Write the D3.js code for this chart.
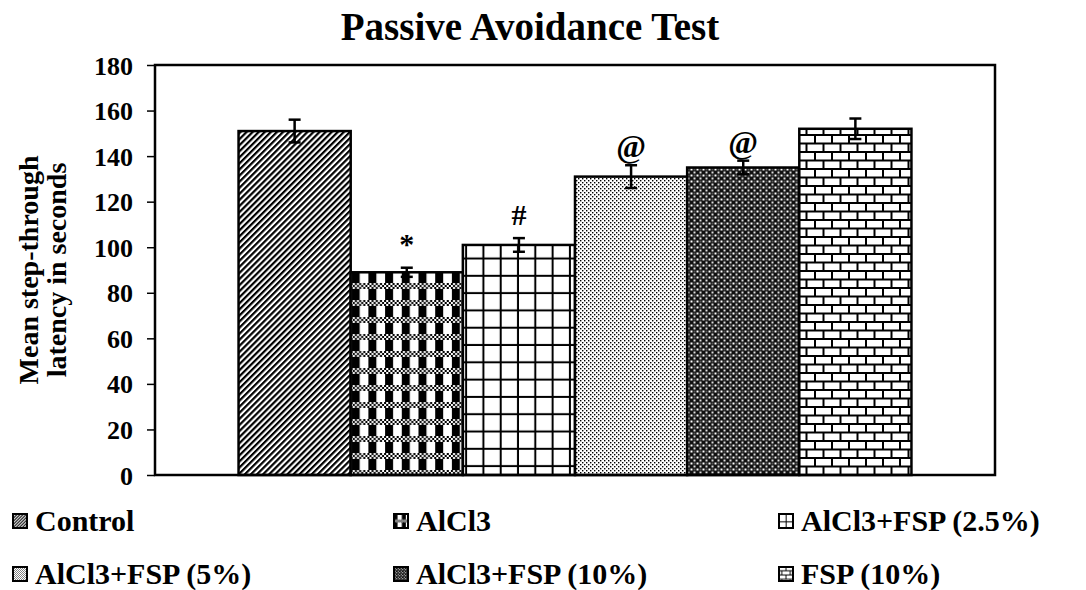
<!DOCTYPE html>
<html>
<head>
<meta charset="utf-8">
<script src="https://cdn.jsdelivr.net/npm/d3@7/dist/d3.min.js"></script>
<style>
  body { margin: 0; background: #fff; }
  text { font-family: "Liberation Serif", "Times New Roman", serif; font-weight: bold; fill: #000; }
</style>
</head>
<body>
<svg id="chart" width="1086" height="590"></svg>
<script>
const groups = ['Control', 'AlCl3', 'AlCl3+FSP (2.5%)', 'AlCl3+FSP (5%)', 'AlCl3+FSP (10%)', 'FSP (10%)'];
const means = [151, 89, 101, 131, 135, 152];
const errors = [5, 2, 3, 5, 3, 4.5];
const marks = ['', '*', '#', '@', '@', ''];
const yTicks = [0, 20, 40, 60, 80, 100, 120, 140, 160, 180];
const patternIds = ['pStripe', 'pPlaid', 'pGrid', 'pDots', 'pDiamond', 'pBrick'];

const width = 1086;
const height = 590;
const margin = { left: 155, right: 91, top: 65, bottom: 115 };

const svg = d3.select('#chart');
const defs = svg.append('defs');

// fill patterns, roughly like the Excel ones; legend keys get a shrunk copy
function makePatterns(suffix, s) {
  const pat = (id, w, h, extra) => defs.append('pattern').attr('id', id + suffix)
    .attr('patternUnits', 'userSpaceOnUse')
    .attr('width', w).attr('height', h)
    .attr('patternTransform', `scale(${s})${extra || ''}`);

  const stripe = pat('pStripe', 4.3, 10, ' rotate(45)');
  stripe.append('rect').attr('width', 4.3).attr('height', 10).attr('fill', '#fff');
  stripe.append('rect').attr('width', 2.2).attr('height', 10).attr('fill', '#000');

  const plaid = pat('pPlaid', 16.7, 17);
  plaid.append('rect').attr('width', 16.7).attr('height', 17).attr('fill', '#fff');
  plaid.append('rect').attr('x', 1).attr('y', 0).attr('width', 8).attr('height', 11).attr('fill', '#000');
  for (let i = 0; i < 8; i++) {
    for (let j = 0; j < 3; j++) {
      if ((i + j) % 2 === 0) {
        plaid.append('rect').attr('x', i * 2.09).attr('y', 11 + j * 2).attr('width', 2.09).attr('height', 2).attr('fill', '#000');
      }
    }
  }

  const grid = pat('pGrid', 17.3, 17.3);
  grid.append('rect').attr('width', 17.3).attr('height', 17.3).attr('fill', '#fff');
  grid.append('rect').attr('x', 15.3).attr('width', 2).attr('height', 17.3).attr('fill', '#000');
  grid.append('rect').attr('y', 15.3).attr('width', 17.3).attr('height', 2).attr('fill', '#000');

  const dots = pat('pDots', 4, 4);
  dots.append('rect').attr('width', 4).attr('height', 4).attr('fill', '#fff');
  dots.append('rect').attr('width', 1.4).attr('height', 1.4).attr('fill', '#000');
  dots.append('rect').attr('x', 2).attr('y', 2).attr('width', 1.4).attr('height', 1.4).attr('fill', '#000');

  const diamond = pat('pDiamond', 6, 6);
  diamond.append('rect').attr('width', 6).attr('height', 6).attr('fill', '#111');
  diamond.append('rect').attr('x', 0.5).attr('y', 0.5).attr('width', 2).attr('height', 2).attr('fill', '#fff');
  diamond.append('rect').attr('x', 3.5).attr('y', 3.5).attr('width', 2).attr('height', 2).attr('fill', '#ddd');
  diamond.append('rect').attr('x', 3.5).attr('y', 0.5).attr('width', 2).attr('height', 2).attr('fill', '#555');

  const brick = pat('pBrick', 17, 17);
  brick.append('rect').attr('width', 17).attr('height', 17).attr('fill', '#000');
  brick.append('rect').attr('x', 0).attr('y', 0).attr('width', 15).attr('height', 6.5).attr('fill', '#fff');
  brick.append('rect').attr('x', 0).attr('y', 8.5).attr('width', 6.5).attr('height', 6.5).attr('fill', '#fff');
  brick.append('rect').attr('x', 8.5).attr('y', 8.5).attr('width', 8.5).attr('height', 6.5).attr('fill', '#fff');
}
makePatterns('', 1);
makePatterns('Key', 0.5);

const x = d3.scaleBand()
  .domain(groups)
  .range([margin.left, width - margin.right])
  .paddingInner(0)
  .paddingOuter(0.745);

const y = d3.scaleLinear()
  .domain([0, 180])
  .range([height - margin.bottom, margin.top]);

// title
svg.append('text')
  .attr('x', 530).attr('y', 40)
  .attr('text-anchor', 'middle')
  .style('font-size', '39px')
  .text('Passive Avoidance Test');

// y axis
const yAxis = svg.append('g')
  .attr('transform', `translate(${margin.left},0)`)
  .call(d3.axisLeft(y).tickValues(yTicks).tickSize(8).tickPadding(14));
yAxis.select('.domain').remove();
yAxis.selectAll('line').attr('stroke', '#000').attr('stroke-width', 1.5);
yAxis.selectAll('text')
  .attr('dy', '0.35em')
  .style('font-size', '26px')
  .style('font-family', '"Liberation Serif", serif')
  .style('font-weight', 'bold');

svg.append('text')
  .attr('transform', `translate(42,${(margin.top + height - margin.bottom) / 2}) rotate(-90)`)
  .attr('text-anchor', 'middle')
  .style('font-size', '28px')
  .selectAll('tspan')
  .data(['Mean step-through', 'latency in seconds'])
  .join('tspan')
  .attr('x', 0)
  .attr('dy', (d, i) => i === 0 ? '-0.15em' : '1.0em')
  .text(d => d);

// bars
svg.append('g')
  .selectAll('rect')
  .data(groups)
  .join('rect')
  .attr('x', d => x(d))
  .attr('y', (d, i) => y(means[i]))
  .attr('width', x.bandwidth())
  .attr('height', (d, i) => y(0) - y(means[i]))
  .attr('fill', (d, i) => `url(#${patternIds[i]})`)
  .attr('stroke', '#000')
  .attr('stroke-width', 2.5);

// error bars
const err = svg.append('g').attr('stroke', '#000').attr('stroke-width', 2.5);
groups.forEach((g, i) => {
  const cx = x(g) + x.bandwidth() / 2;
  err.append('line').attr('x1', cx).attr('x2', cx)
    .attr('y1', y(means[i] - errors[i])).attr('y2', y(means[i] + errors[i]));
  err.append('line').attr('x1', cx - 6).attr('x2', cx + 6)
    .attr('y1', y(means[i] + errors[i])).attr('y2', y(means[i] + errors[i]));
  err.append('line').attr('x1', cx - 6).attr('x2', cx + 6)
    .attr('y1', y(means[i] - errors[i])).attr('y2', y(means[i] - errors[i]));
});

// significance marks
const markGap = { '*': 14, '#': 13, '@': 8, '': 0 };
svg.append('g')
  .selectAll('text')
  .data(groups)
  .join('text')
  .attr('x', d => x(d) + x.bandwidth() / 2)
  .attr('y', (d, i) => y(means[i] + errors[i]) - markGap[marks[i]])
  .attr('text-anchor', 'middle')
  .style('font-size', (d, i) => marks[i] === '@' ? '32px' : '30px')
  .text((d, i) => marks[i]);

// frame
svg.append('rect')
  .attr('x', margin.left).attr('y', margin.top)
  .attr('width', width - margin.left - margin.right)
  .attr('height', height - margin.top - margin.bottom)
  .attr('fill', 'none')
  .attr('stroke', '#000')
  .attr('stroke-width', 2.5);

// legend
const legendCols = [12, 393, 778];
const legendRows = [531, 584];
const legend = svg.append('g')
  .selectAll('g')
  .data(groups)
  .join('g')
  .attr('transform', (d, i) => `translate(${legendCols[i % 3]},${legendRows[Math.floor(i / 3)]})`);
legend.append('rect')
  .attr('x', 1).attr('y', -17)
  .attr('width', 14).attr('height', 14)
  .attr('fill', (d, i) => `url(#${patternIds[i]}Key)`)
  .attr('stroke', '#000')
  .attr('stroke-width', 2);
legend.append('text')
  .attr('x', 23).attr('y', 0)
  .style('font-size', '30px')
  .text(d => d);
</script>
</body>
</html>
